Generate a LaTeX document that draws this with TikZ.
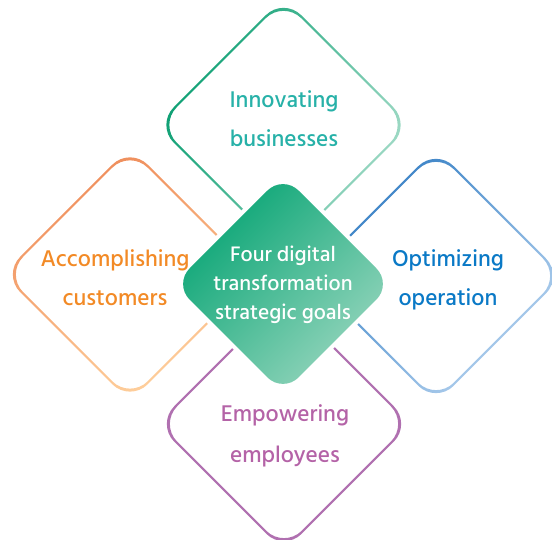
\documentclass[tikz,border=0pt]{standalone}
\usepackage{fontspec}
\setmainfont{Hind Siliguri}[UprightFont=* Medium]
\definecolor{tgA}{HTML}{049C6E}
\definecolor{tgB}{HTML}{A8DDCA}
\definecolor{orA}{HTML}{EE8A58}
\definecolor{orB}{HTML}{FFD3A0}
\definecolor{blA}{HTML}{2F7BC2}
\definecolor{blB}{HTML}{B8D4F0}
\definecolor{pu}{HTML}{B070B0}
\definecolor{ctA}{HTML}{06A473}
\definecolor{ctB}{HTML}{98D6BE}
\definecolor{txT}{HTML}{27B1A8}
\definecolor{txO}{HTML}{F28A26}
\definecolor{txB}{HTML}{0A79C6}
\definecolor{txP}{HTML}{B463A7}
\newcommand\rdia[3]{({#1},{#2+#3}) -- ({#1+#3},{#2}) -- ({#1},{#2-#3}) -- ({#1-#3},{#2}) -- cycle}
\begin{document}
\begin{tikzpicture}[x=1pt,y=1pt,
  ring/.style={even odd rule, rounded corners=25pt},
  lbl/.style={anchor=base, inner sep=0pt, font=\fontsize{23.3}{23.3}\selectfont},
  ctr/.style={anchor=base, inner sep=0pt, text=white, font=\fontsize{21.5}{21.5}\selectfont}]
\useasboundingbox (0,0) rectangle (552,540);
% outer diamonds
\shade[ring, top color=tgA, bottom color=tgB, shading angle=65] \rdia{283.5}{415}{127.5} \rdia{283.5}{415}{124.5};
\shade[ring, top color=orA, bottom color=orB, shading angle=25] \rdia{130}{265.5}{127.5} \rdia{130}{265.5}{124.5};
\shade[ring, top color=blA, bottom color=blB, shading angle=45] \rdia{436}{264}{127.5} \rdia{436}{264}{124.5};
\fill[ring, pu] \rdia{284}{116}{127.5} \rdia{284}{116}{124.5};
% centre diamond
\fill[white, rounded corners=26pt] \rdia{283}{256}{115};
\shade[rounded corners=22pt, top color=ctA, bottom color=ctB, shading angle=45] \rdia{283}{256}{109};
% labels
\node[lbl, text=txT] (t1) at (284,432) {Innovating};
\node[lbl, text=txT] (t2) at (284,393) {businesses};
\node[lbl, text=txO] (l1) at (115,273.5) {Accomplishing};
\node[lbl, text=txO] (l2) at (115,234) {customers};
\node[lbl, text=txB] (r1) at (448,273.5) {Optimizing};
\node[lbl, text=txB] (r2) at (448,234) {operation};
\node[lbl, text=txP] (b1) at (285,118) {Empowering};
\node[lbl, text=txP] (b2) at (285,77) {employees};
\node[ctr] (c1) at (283,278) {Four digital};
\node[ctr] (c2) at (283,249) {transformation};
\node[ctr] (c3) at (283,220) {strategic goals};
\end{tikzpicture}
\end{document}
